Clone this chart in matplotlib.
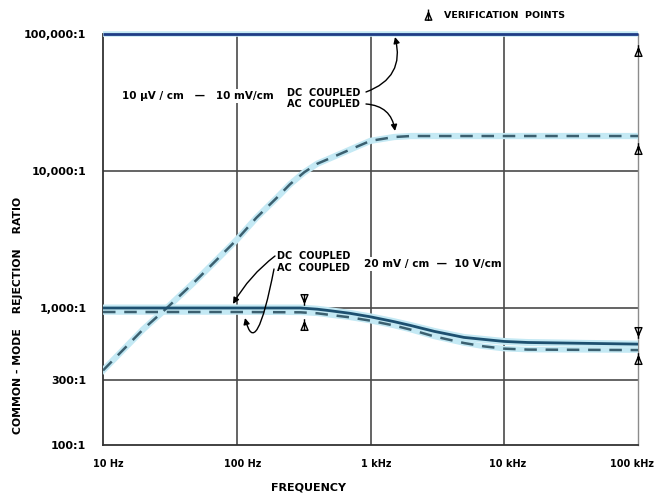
import matplotlib
matplotlib.use('Agg')
import matplotlib.pyplot as plt
import matplotlib.transforms as mtrans
from matplotlib.path import Path
from matplotlib.lines import Line2D
from matplotlib.patches import FancyArrowPatch

# ---------------- data ----------------
freq_ticks = [10, 100, 1000, 10000, 100000]
freq_labels = ['10 Hz', '100 Hz', '1 kHz', '10 kHz', '100 kHz']
ratio_ticks = [100, 300, 1000, 10000, 100000]
ratio_labels = ['100:1', '300:1', '1,000:1', '10,000:1', '100,000:1']

# 10 uV/cm - 10 mV/cm
freq_hi_dc = [10, 100000]
cmrr_hi_dc = [100000, 100000]
freq_hi_ac = [10, 20, 30, 50, 100, 140, 200, 250, 320, 400, 500, 700, 1000, 1500, 2000, 100000]
cmrr_hi_ac = [350, 700, 1000, 1600, 3150, 4550, 6400, 8000, 9800, 11300, 12400, 14300, 16600, 17700,
              18000, 18000]

# 20 mV/cm - 10 V/cm
freq_lo = [10, 100, 300, 400, 500, 700, 1000, 1500, 2000, 3000, 5000, 7000, 10000, 15000, 100000]
cmrr_lo_dc = [1000, 1000, 1000, 980, 955, 915, 862, 795, 745, 675, 610, 590, 570, 560, 545]
cmrr_lo_ac = [935, 935, 930, 915, 890, 855, 808, 745, 695, 620, 555, 525, 505, 497, 493]

# verification points
ver_up_f = [100000, 100000, 100000, 320]
ver_up_r = [74000, 14200, 420, 740]
ver_dn_f = [100000, 320]
ver_dn_r = [685, 1180]

W, H = 655, 494
fig = plt.figure(figsize=(W / 100, H / 100), dpi=100)
ax = fig.add_axes([103 / W, 1 - 445 / H, (638 - 103) / W, (445 - 34) / H])
ax.set_xscale('log')
ax.set_yscale('log')
ax.set_xlim(10, 100000)
ax.set_ylim(100, 100000)

def px(x, y):
    return (x / W, 1 - y / H)

FONT = dict(family='DejaVu Sans', weight='bold')
grid_c = '#4a4a4a'
halo = '#c4e9f4'

# grid
for f in freq_ticks[1:-1]:
    ax.axvline(f, color=grid_c, lw=1.2, zorder=1)
for r in ratio_ticks[1:-1]:
    ax.axhline(r, color=grid_c, lw=1.2, zorder=1)

for s in ['left', 'bottom']:
    ax.spines[s].set_color('#333333')
    ax.spines[s].set_linewidth(1.3)
ax.spines['right'].set_color('#8c8c8c')
ax.spines['right'].set_linewidth(1.0)
ax.spines['top'].set_visible(False)

ax.set_xticks(freq_ticks)
ax.set_xticklabels(freq_labels, fontsize=7, **FONT)
ax.set_yticks(ratio_ticks)
ax.set_yticklabels(ratio_labels, fontsize=8, **FONT)
ax.minorticks_off()
ax.tick_params(length=0, pad=12)
ax.tick_params(axis='x', pad=10)
for lab, o in zip(ax.get_xticklabels(), [5, 6, 6, 3, -6]):
    lab.set_transform(lab.get_transform() + mtrans.ScaledTranslation(o / 100, 0, fig.dpi_scale_trans))

# curves
ax.plot(freq_hi_dc, cmrr_hi_dc, color=halo, lw=4, zorder=3, clip_on=False, solid_capstyle='butt')
ax.plot(freq_hi_dc, cmrr_hi_dc, color='#1e3c86', lw=2.0, zorder=4, clip_on=False, solid_capstyle='butt')

ax.plot(freq_hi_ac, cmrr_hi_ac, color=halo, lw=4.5, zorder=3)
ax.plot(freq_hi_ac, cmrr_hi_ac, color='#3b6070', lw=1.8, ls=(0, (5, 3.5)), zorder=4)

ax.plot(freq_lo, cmrr_lo_dc, color=halo, lw=5, zorder=3)
ax.plot(freq_lo, cmrr_lo_ac, color=halo, lw=4, zorder=3)
ax.plot(freq_lo, cmrr_lo_dc, color='#1d5070', lw=2.0, zorder=4)
ax.plot(freq_lo, cmrr_lo_ac, color='#3b6070', lw=1.8, ls=(0, (5, 3.5)), zorder=4)

# verification point markers
tri_up = Path([(-0.45, -0.5), (0.45, -0.5), (0, 0.55), (-0.45, -0.5), (0, 0.95), (0, -0.5)],
              [Path.MOVETO, Path.LINETO, Path.LINETO, Path.CLOSEPOLY, Path.MOVETO, Path.LINETO])
tri_dn = Path([(-0.45, 0.5), (0.45, 0.5), (0, -0.55), (-0.45, 0.5), (0, -0.95), (0, 0.5)],
              [Path.MOVETO, Path.LINETO, Path.LINETO, Path.CLOSEPOLY, Path.MOVETO, Path.LINETO])
mk = dict(ls='none', ms=10.5, mfc='white', mec='black', mew=1.0, zorder=6, clip_on=False)
ax.plot(ver_up_f, ver_up_r, marker=tri_up, **mk)
ax.plot(ver_dn_f, ver_dn_r, marker=tri_dn, **mk)

# legend for verification points
fig.lines.append(Line2D([428 / W], [1 - 16 / H], ls='none', marker=tri_up, ms=10,
                        mfc='white', mec='black', mew=1.0, transform=fig.transFigure))
fig.text(*px(444, 16), 'VERIFICATION  POINTS', fontsize=6.8, ha='left', va='center', **FONT)

# labels
bb = dict(boxstyle='square,pad=0.15', fc='white', ec='none')
fig.text(*px(122, 96), '10 µV / cm   —   10 mV/cm', fontsize=7.5, ha='left', va='center', bbox=bb,
         zorder=5, **FONT)
fig.text(*px(287, 93), 'DC  COUPLED', fontsize=7, ha='left', va='center', **FONT)
fig.text(*px(287, 104), 'AC  COUPLED', fontsize=7, ha='left', va='center', **FONT)
fig.text(*px(277, 256), 'DC  COUPLED', fontsize=7, ha='left', va='center', **FONT)
fig.text(*px(277, 268), 'AC  COUPLED', fontsize=7, ha='left', va='center', **FONT)
fig.text(*px(364, 264), '20 mV / cm  —  10 V/cm', fontsize=7.6, ha='left', va='center', bbox=bb,
         zorder=5, **FONT)

ap = dict(arrowstyle='-|>', color='black', lw=1.0, mutation_scale=9, shrinkA=0, shrinkB=0)
fig.add_artist(FancyArrowPatch(px(366, 92), px(395, 37), connectionstyle='arc3,rad=0.45',
                               transform=fig.transFigure, **ap))
fig.add_artist(FancyArrowPatch(px(366, 104), px(395, 131), connectionstyle='arc3,rad=-0.4',
                               transform=fig.transFigure, **ap))
fig.add_artist(FancyArrowPatch(px(275, 256), px(233, 304), connectionstyle='arc3,rad=0.1',
                               transform=fig.transFigure, **ap))
hook = Path([px(274, 269), px(256, 362), px(245, 318)], [Path.MOVETO, Path.CURVE3, Path.CURVE3])
fig.add_artist(FancyArrowPatch(path=hook, transform=fig.transFigure, **ap))

fig.text(*px(18, 315), 'COMMON - MODE    REJECTION    RATIO', rotation=90, fontsize=7.8, ha='center',
         va='center', **FONT)
fig.text(*px(309, 487), 'FREQUENCY', fontsize=8, ha='center', va='center', **FONT)

fig.savefig('out.png', dpi=100)
